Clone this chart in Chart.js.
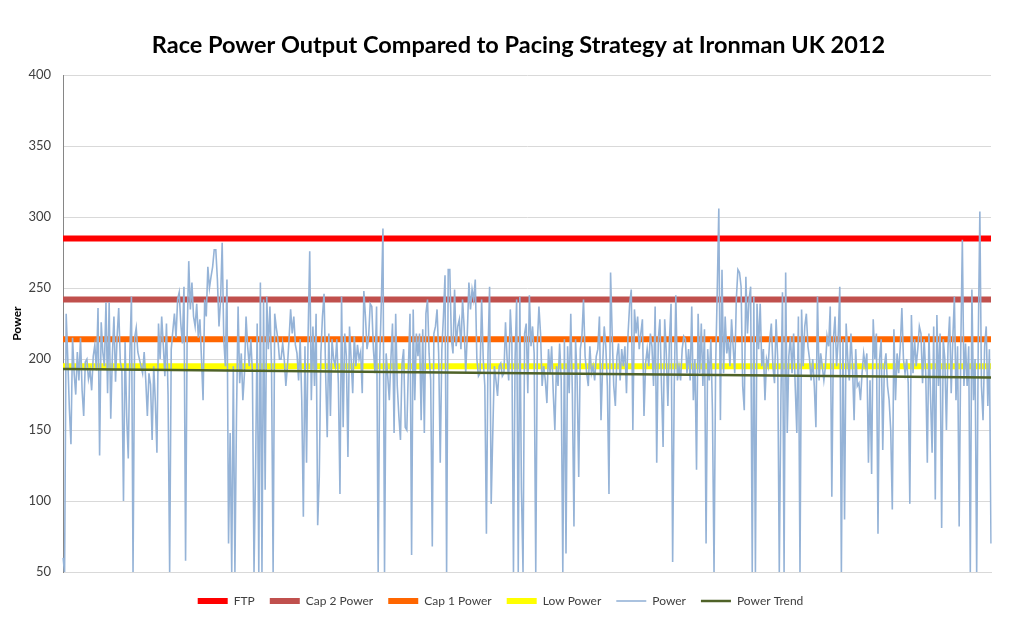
<!DOCTYPE html>
<html>
<head>
<meta charset="utf-8">
<title>Race Power Output</title>
<script src="https://cdn.jsdelivr.net/npm/chart.js@4.4.0/dist/chart.umd.min.js"></script>
<style>
  html, body { margin: 0; padding: 0; background: #fff; }
  #wrap { width: 1024px; height: 625px; }
</style>
</head>
<body>
<div id="wrap"><canvas id="g_power"></canvas></div>
<script>
// pacing levels (watts)
var ftp = 285;
var cap2Power = 242;
var cap1Power = 214;
var lowPower = 195;

// linear trend of the race power, start and end
var trendStart = 193;
var trendEnd = 187;

// y axis
var yMin = 50;
var yMax = 400;
var yStep = 50;

// race power samples left to right
var power = [
    60, 50, 232, 200, 165, 140, 215, 190, 175, 205, 185, 215, 178, 160, 198, 200, 186, 192, 178, 202, 210, 192, 236, 132, 226, 205, 195, 240, 176, 240, 158, 202, 230, 184, 216, 236, 198, 192, 100, 212, 160, 130, 204, 244, 50, 215, 222,
    205, 200, 195, 190, 205, 185, 160, 190, 182, 143, 195, 170, 134, 225, 200, 230, 210, 188, 225, 175, 50, 207, 220, 232, 215, 242, 247, 225, 211, 251, 58, 218, 269, 235, 254, 230, 223, 239, 215, 228, 200, 171, 242, 230, 265, 250, 258, 265, 277,
    277, 256, 223, 242, 282, 214, 195, 256, 70, 148, 50, 195, 50, 160, 237, 183, 204, 171, 190, 230, 209, 195, 214, 190, 50, 124, 225, 50, 254, 50, 242, 108, 244, 207, 237, 195, 50, 232, 222, 214, 200, 200, 211, 200, 181, 195, 214, 235, 218,
    230, 210, 204, 185, 214, 171, 89, 209, 127, 218, 276, 171, 223, 181, 232, 83, 117, 204, 230, 246, 190, 145, 218, 160, 214, 200, 195, 214, 183, 105, 244, 152, 218, 202, 131, 223, 200, 176, 216, 195, 210, 200, 205, 176, 248, 230, 207, 215, 239,
    237, 207, 190, 237, 50, 200, 240, 292, 50, 204, 188, 171, 200, 225, 148, 232, 181, 160, 143, 197, 207, 152, 150, 195, 232, 62, 235, 171, 218, 202, 218, 157, 221, 148, 232, 242, 204, 185, 68, 218, 223, 235, 204, 127, 207, 230, 259, 50, 263,
    263, 214, 204, 249, 209, 223, 228, 207, 242, 223, 190, 218, 254, 235, 249, 242, 256, 200, 188, 190, 242, 200, 181, 77, 204, 251, 98, 148, 195, 185, 174, 195, 197, 188, 190, 226, 200, 185, 235, 211, 50, 200, 242, 50, 244, 108, 50, 218, 225,
    176, 245, 209, 223, 204, 50, 211, 237, 218, 181, 195, 185, 169, 207, 190, 209, 176, 150, 195, 181, 211, 185, 50, 214, 63, 209, 176, 232, 176, 82, 214, 185, 117, 207, 216, 242, 202, 190, 181, 209, 190, 195, 185, 202, 207, 230, 157, 195, 223,
    209, 181, 105, 261, 218, 181, 167, 202, 211, 185, 207, 195, 209, 176, 218, 239, 249, 150, 235, 218, 230, 207, 218, 228, 160, 197, 207, 195, 218, 209, 181, 237, 127, 214, 228, 181, 138, 228, 204, 167, 214, 239, 57, 181, 245, 185, 195, 185, 207, 216,
    214, 190, 207, 185, 237, 171, 200, 122, 232, 190, 225, 181, 221, 70, 207, 185, 214, 164, 50, 195, 247, 306, 157, 263, 190, 230, 204, 214, 195, 228, 209, 190, 242, 263, 261, 251, 181, 164, 258, 218, 242, 251, 50, 244, 50, 239, 207, 239, 195,
    207, 171, 200, 195, 214, 225, 195, 183, 228, 200, 50, 171, 247, 50, 261, 148, 202, 216, 190, 218, 181, 148, 230, 50, 235, 195, 223, 232, 209, 200, 185, 200, 181, 152, 244, 185, 204, 195, 185, 195, 216, 209, 237, 103, 214, 230, 195, 214, 251, 50,
    214, 87, 225, 200, 185, 218, 195, 157, 207, 181, 183, 171, 190, 204, 195, 204, 127, 185, 119, 228, 200, 218, 77, 200, 214, 136, 195, 204, 181, 171, 150, 94, 221, 171, 204, 190, 209, 236, 200, 190, 200, 183, 98, 231, 190, 214, 195, 207, 223,
    218, 183, 214, 190, 127, 218, 174, 134, 223, 101, 231, 181, 218, 81, 214, 200, 150, 209, 230, 176, 214, 244, 171, 209, 82, 207, 284, 181, 211, 181, 209, 50, 249, 171, 200, 50, 214, 304, 181, 157, 209, 223, 167, 207, 70
];

var samples = [];
var ftpLine = [];
var cap2Line = [];
var cap1Line = [];
var lowLine = [];
var trendLine = [];
for (let i = 0; i < power.length; i++) {
    samples.push(i + 1);
    ftpLine.push(ftp);
    cap2Line.push(cap2Power);
    cap1Line.push(cap1Power);
    lowLine.push(lowPower);
    trendLine.push(null);
}
trendLine[0] = trendStart;
trendLine[power.length - 1] = trendEnd;

Chart.defaults.font.family = 'Lato, "Open Sans", sans-serif';
Chart.defaults.animation = false;

var ctx = document.getElementById('g_power').getContext('2d');
// datasets listed top-most first, the legend is reversed back to FTP ... Power Trend
var myChart = new Chart(ctx, {
    type: 'line',
    data: {
        labels: samples,
        datasets: [
            { label: 'Power Trend', data: trendLine, borderColor: '#4F6228', borderWidth: 2.5, spanGaps: true },
            { label: 'Power', data: power, borderColor: '#95B3D7', borderWidth: 1.6 },
            { label: 'Low Power', data: lowLine, borderColor: '#FFFF00', borderWidth: 6 },
            { label: 'Cap 1 Power', data: cap1Line, borderColor: '#FF6600', borderWidth: 6 },
            { label: 'Cap 2 Power', data: cap2Line, borderColor: '#C0504D', borderWidth: 6 },
            { label: 'FTP', data: ftpLine, borderColor: '#FF0000', borderWidth: 6 }
        ]
    },
    options: {
        responsive: true,
        maintainAspectRatio: false,
        elements: {
            point: { radius: 0, hoverRadius: 0 },
            line: { tension: 0, borderCapStyle: 'butt' }
        },
        layout: { padding: { left: 10, right: 33, top: 0, bottom: 8 } },
        plugins: {
            title: {
                display: true,
                fullSize: false,
                text: 'Race Power Output Compared to Pacing Strategy at Ironman UK 2012\u00a0\u00a0\u00a0',
                color: '#000000',
                font: { size: 23.5, weight: 'bold' },
                padding: { top: 31, bottom: 16 }
            },
            legend: {
                position: 'bottom',
                reverse: true,
                labels: {
                    usePointStyle: true,
                    pointStyle: 'line',
                    pointStyleWidth: 30,
                    boxWidth: 30,
                    padding: 15,
                    color: '#404040',
                    font: { size: 12 }
                }
            },
            tooltip: { enabled: false }
        },
        scales: {
            x: {
                type: 'category',
                offset: false,
                ticks: { display: false },
                grid: { display: false },
                border: { color: '#D9D9D9' }
            },
            y: {
                min: yMin,
                max: yMax,
                ticks: { stepSize: yStep, padding: 12, color: '#404040', font: { size: 13 } },
                grid: { color: '#D9D9D9', drawTicks: false },
                border: { color: '#868686' },
                title: { display: true, text: 'Power', color: '#000000', font: { size: 12, weight: 'bold' }, padding: 0 },
                afterFit: function (scale) { scale.width = 53; }
            }
        }
    }
});
</script>
</body>
</html>
